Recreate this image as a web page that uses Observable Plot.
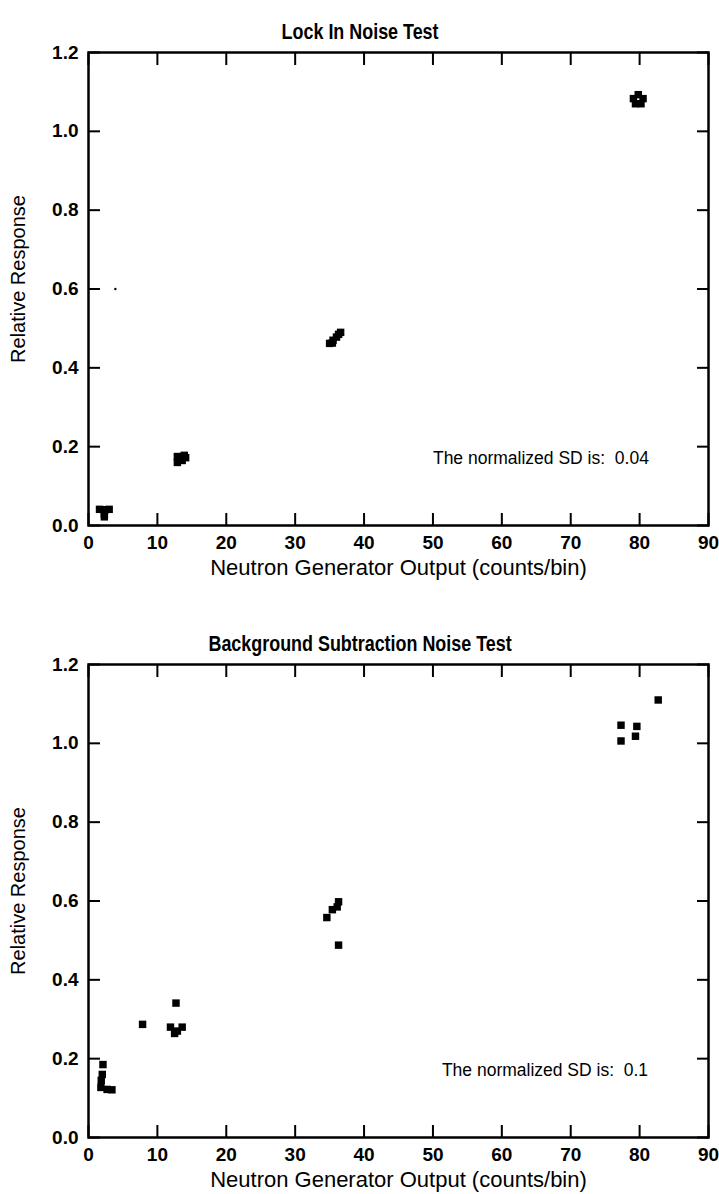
<!DOCTYPE html>
<html><head><meta charset="utf-8">
<script src="https://cdn.jsdelivr.net/npm/d3@7"></script>
<script src="https://cdn.jsdelivr.net/npm/@observablehq/plot@0.6"></script>
<style>
body{margin:0;background:#fff;}
#c svg{display:block;}
</style></head><body><div id="c"></div>
<script>
const xTicks = [0, 10, 20, 30, 40, 50, 60, 70, 80, 90];
const yTicks = [0, 0.2, 0.4, 0.6, 0.8, 1.0, 1.2];
const titles = ["Lock In Noise Test", "Background Subtraction Noise Test"];
const notes = ["The normalized SD is:  0.04", "The normalized SD is:  0.1"];
const xLabel = "Neutron Generator Output (counts/bin)";
const yLabel = "Relative Response";

// Lock In Noise Test
const lockX = [1.6, 2.4, 3.0, 2.3, 2.3, 12.9, 13.9, 12.9, 13.6, 14.1, 35.0, 35.5, 36.0, 36.6, 36.3, 35.4, 79.8, 80.5, 80.2, 79.4, 79.1];
const lockY = [0.041, 0.040, 0.041, 0.030, 0.022, 0.175, 0.178, 0.160, 0.165, 0.172, 0.462, 0.470, 0.478, 0.490, 0.485, 0.463, 1.093, 1.083, 1.070, 1.070, 1.083];
const lockStrayX = [3.9];
const lockStrayY = [0.60];

// Background Subtraction Noise Test
const bgX = [2.1, 2.0, 1.85, 1.8, 2.7, 3.4, 7.85, 12.7, 11.9, 12.5, 12.9, 13.6, 34.6, 35.4, 36.1, 36.3, 36.3, 77.3, 77.3, 79.6, 79.4, 82.7];
const bgY = [0.185, 0.160, 0.145, 0.127, 0.122, 0.121, 0.287, 0.341, 0.280, 0.264, 0.270, 0.280, 0.558, 0.578, 0.585, 0.598, 0.488, 1.046, 1.006, 1.043, 1.018, 1.110];

const font = "'Liberation Sans', Arial, Helvetica, sans-serif";
const W = 719;

function chart(xs, ys, sx, sy, title, note, noteX, height) {
  const pts = xs.map((x, i) => ({x, y: ys[i]}));
  const stray = sx.map((x, i) => ({x, y: sy[i]}));
  const mL = 88, mR = 11;
  // titles are centred on the page, not on the frame
  const titleDx = W / 2 - (mL + (W - mL - mR) / 2);
  return Plot.plot({
    width: W, height,
    marginTop: 52, marginLeft: mL, marginRight: mR, marginBottom: height - 525,
    x: {domain: [0, 90]},
    y: {domain: [0, 1.2]},
    style: {fontFamily: font, color: "#000", background: "#fff", overflow: "visible"},
    marks: [
      Plot.frame({stroke: "#000", strokeWidth: 2.5}),
      Plot.axisX(xTicks, {anchor: "bottom", tickSize: -12, strokeWidth: 2, tickFormat: () => "", label: null}),
      Plot.axisX(xTicks, {anchor: "top", tickSize: -12, strokeWidth: 2, tickFormat: () => "", label: null}),
      Plot.axisY(yTicks, {anchor: "left", tickSize: -12, strokeWidth: 2, tickFormat: () => "", label: null}),
      Plot.axisY(yTicks, {anchor: "right", tickSize: -12, strokeWidth: 2, tickFormat: () => "", label: null}),
      Plot.axisX(xTicks, {anchor: "bottom", tickSize: 0, tickPadding: 10, fontSize: 19, fontWeight: "bold", tickFormat: d => String(d), label: null}),
      Plot.axisY(yTicks, {anchor: "left", tickSize: 0, tickPadding: 10, fontSize: 19, fontWeight: "bold", tickFormat: d => d.toFixed(1), label: null}),
      Plot.text([title], {frameAnchor: "top", dx: titleDx, dy: -29, fontSize: 22, fontWeight: "bold"}),
      Plot.text([xLabel], {frameAnchor: "bottom", dy: 49, fontSize: 22}),
      Plot.text([yLabel], {frameAnchor: "left", textAnchor: "middle", dx: -70, dy: -10, rotate: -90, fontSize: 20}),
      Plot.text([note], {x: () => noteX, y: () => 0.17, textAnchor: "start", fontSize: 17.5}),
      Plot.dot(pts, {x: "x", y: "y", symbol: "square", r: 4.2, fill: "#000", stroke: "none"}),
      Plot.dot(stray, {x: "x", y: "y", r: 1.2, fill: "#000", stroke: "none"})
    ]
  });
}

// condense the bold titles horizontally (the original uses a condensed Helvetica)
function condense(svg, title, k) {
  d3.select(svg).selectAll("text").filter(function () { return this.textContent === title; }).each(function () {
    const b = this.getBBox();
    const cx = b.x + b.width / 2;
    const tr = this.getAttribute("transform") || "";
    this.setAttribute("transform", `${tr} translate(${cx},0) scale(${k},1) translate(${-cx},0)`.trim());
  });
}

const c = document.getElementById("c");
const s1 = chart(lockX, lockY, lockStrayX, lockStrayY, titles[0], notes[0], 50.0, 612);
const s2 = chart(bgX, bgY, [], [], titles[1], notes[1], 51.3, 582);
c.appendChild(s1);
c.appendChild(s2);
condense(s1, titles[0], 0.815);
condense(s2, titles[1], 0.815);
</script>
</body></html>
